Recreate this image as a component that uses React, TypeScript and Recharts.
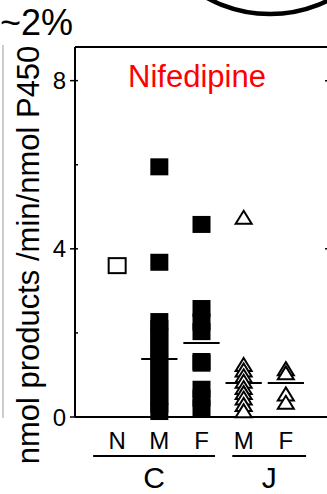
import React from "react";
import { ReferenceLine, Scatter, ScatterChart, XAxis, YAxis } from "recharts";

const FONT = "'Liberation Sans', Arial, sans-serif";

// category slots along the x axis
const groupLabels = ["N", "M", "F", "M", "F"];
const groupPos = [1, 2, 3, 4, 5];

// individual measurements (nmol products /min/nmol P450)
const cnValues = [3.6];
const cmValues = [5.95, 3.68, 2.27, 2.1, 1.9, 1.7, 1.5, 1.3, 1.1, 0.9, 0.7, 0.5, 0.3, 0.13];
const cfValues = [4.58, 2.58, 2.26, 2.03, 1.32, 1.28, 0.66, 0.45, 0.22];
const jmValues = [4.75, 1.25, 1.12, 0.98, 0.85, 0.7, 0.58, 0.45, 0.3, 0.15];
const jfValues = [1.15, 1.05, 0.55, 0.35];

// mean bars per slot (N has none)
const meanValues = [null, 1.38, 1.76, 0.81, 0.81];

// outer grouping under the x labels
const superNames = ["C", "J"];
const superFrom = [0.43, 3.73];
const superTo = [3.32, 5.48];

const yTicks = [0, 2, 4, 6, 8];
const yLabelTicks = [0, 4, 8];
const Y_MAX = 8.8;
const X_MAX = 6;

const toPts = (pos: number, vals: number[]) => vals.map((y) => ({ x: pos, y }));

const FilledSquare = (p: any) => (
  <rect x={p.cx - 9} y={p.cy - 8.5} width={18} height={17} fill="#000" />
);
const OpenSquare = (p: any) => (
  <rect x={p.cx - 8.5} y={p.cy - 7.5} width={17} height={15} fill="#fff" stroke="#000" strokeWidth={2} />
);
const OpenTriangle = (p: any) => (
  <path
    d={`M${p.cx},${p.cy - 6.5} L${p.cx + 8},${p.cy + 6.5} L${p.cx - 8},${p.cy + 6.5} Z`}
    fill="#fff"
    stroke="#000"
    strokeWidth={2}
  />
);

const YTick = (p: any) => {
  const v = p.payload.value;
  const ax = p.x + 9;
  const major = yLabelTicks.includes(v);
  return (
    <g>
      <line x1={major ? ax - 5 : ax} x2={ax + 3} y1={p.y} y2={p.y} stroke="#000" strokeWidth={1.5} />
      {major && (
        <text x={p.x} y={p.y} dy="0.36em" textAnchor="end" fontSize={24} fontFamily={FONT} fill="#000">
          {v}
        </text>
      )}
    </g>
  );
};

const XTick = (p: any) => {
  const i = groupPos.indexOf(p.payload.value);
  return (
    <text x={p.x} y={p.y} dy={32} textAnchor="middle" fontSize={24} fontFamily={FONT} fill="#000">
      {groupLabels[i]}
    </text>
  );
};

export default function App() {
  return (
    <div
      style={{
        position: "absolute",
        left: 0,
        top: 0,
        width: 327,
        height: 494,
        overflow: "hidden",
        background: "#fff",
      }}
    >
      <ScatterChart width={329} height={494} margin={{ top: 47, right: 1, left: 0, bottom: 0 }}>
        <XAxis
          type="number"
          dataKey="x"
          domain={[0, X_MAX]}
          ticks={groupPos}
          interval={0}
          height={77}
          tickLine={false}
          tickSize={0}
          tickMargin={0}
          axisLine={{ stroke: "#000", strokeWidth: 2 }}
          tick={<XTick />}
        />
        <YAxis
          type="number"
          dataKey="y"
          domain={[0, Y_MAX]}
          ticks={yTicks}
          interval={0}
          width={75}
          tickLine={false}
          tickSize={0}
          tickMargin={9}
          axisLine={{ stroke: "#000", strokeWidth: 2 }}
          tick={<YTick />}
          label={{
            content: () => (
              <text
                x={39}
                y={255}
                transform="rotate(-90 39 255)"
                textAnchor="middle"
                fontSize={31}
                fontFamily={FONT}
                fill="#000"
              >
                nmol products /min/nmol P450
              </text>
            ),
          }}
        />
        <ReferenceLine y={Y_MAX} stroke="#000" strokeWidth={2} />
        {yLabelTicks
          .filter((t) => t > 0)
          .map((t) => (
            <ReferenceLine
              key={"rt" + t}
              segment={[
                { x: X_MAX - 0.07, y: t },
                { x: X_MAX, y: t },
              ]}
              stroke="#000"
              strokeWidth={1.5}
            />
          ))}
        <Scatter data={toPts(groupPos[0], cnValues)} shape={OpenSquare} isAnimationActive={false} />
        <Scatter data={toPts(groupPos[1], cmValues)} shape={FilledSquare} isAnimationActive={false} />
        <Scatter data={toPts(groupPos[2], cfValues)} shape={FilledSquare} isAnimationActive={false} />
        <Scatter data={toPts(groupPos[3], jmValues)} shape={OpenTriangle} isAnimationActive={false} />
        <Scatter data={toPts(groupPos[4], jfValues)} shape={OpenTriangle} isAnimationActive={false} />
        {meanValues.map((m, i) =>
          m == null ? null : (
            <ReferenceLine
              key={"m" + i}
              segment={[
                { x: groupPos[i] - 0.43, y: m },
                { x: groupPos[i] + 0.43, y: m },
              ]}
              stroke="#000"
              strokeWidth={2}
            />
          )
        )}
        {superNames.map((name, i) => (
          <ReferenceLine
            key={name}
            segment={[
              { x: superFrom[i], y: -0.93 },
              { x: superTo[i], y: -0.93 },
            ]}
            ifOverflow="visible"
            stroke="#000"
            strokeWidth={2}
            label={{ value: name, position: "bottom", offset: 11, fontSize: 30, fontFamily: FONT, fill: "#000" }}
          />
        ))}
      </ScatterChart>
      <svg
        width={327}
        height={494}
        style={{ position: "absolute", left: 0, top: 0, pointerEvents: "none" }}
      >
        <line x1={3} x2={3} y1={45} y2={418} stroke="#bdbdbd" strokeWidth={1.5} />
        <circle cx={270} cy={-117} r={131} fill="none" stroke="#000" strokeWidth={4.5} />
        <text x={0} y={35} fontSize={36} fontFamily={FONT} fill="#000">
          ~2%
        </text>
        <text x={197} y={87} textAnchor="middle" fontSize={31} fontFamily={FONT} fill="#ff0000">
          Nifedipine
        </text>
      </svg>
    </div>
  );
}
